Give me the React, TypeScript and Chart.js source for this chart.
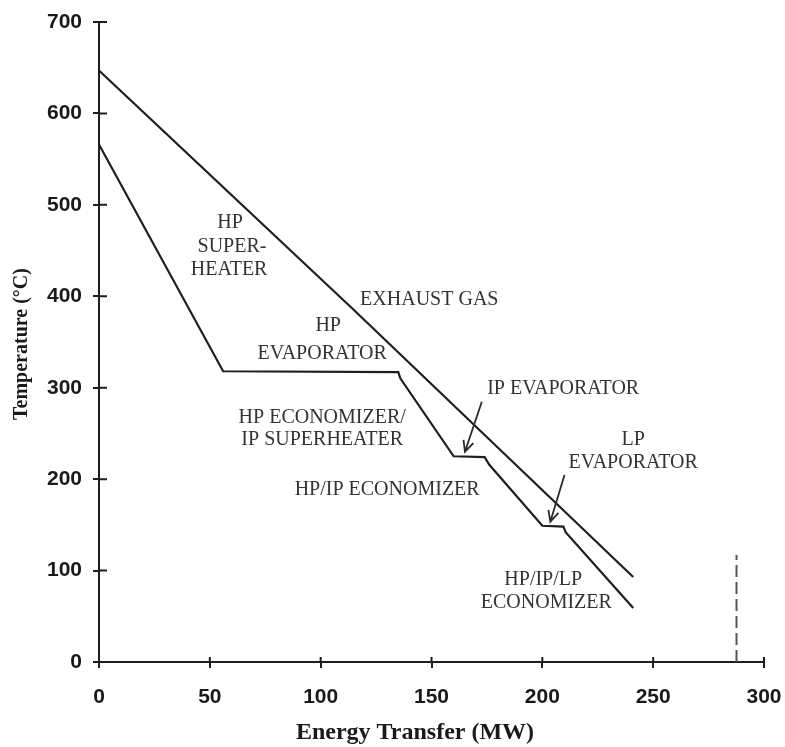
import React, { useEffect, useRef } from 'react';
import { Chart, registerables } from 'chart.js';

Chart.register(...registerables);

// ---- Data ----
const energyTickValues = [0, 50, 100, 150, 200, 250, 300];
const temperatureTickValues = [0, 100, 200, 300, 400, 500, 600, 700];

// Exhaust gas temperature profile
const exhaustEnergy = [0, 115, 241];
const exhaustTemp = [647, 385, 93];

// Water / steam temperature profile
const steamEnergy = [0, 56, 135, 136, 160, 174, 176, 200, 209.5, 210.5, 241];
const steamTemp = [566, 318, 317, 310, 225, 224, 216, 149, 148, 142, 59];

// Dashed vertical marker
const markerEnergy = [287.6, 287.6];
const markerTemp = [0, 117];

// Section labels (text, energy, temperature)
const labelTexts = [
  'HP', 'SUPER-', 'HEATER',
  'EXHAUST GAS',
  'HP', 'EVAPORATOR',
  'IP EVAPORATOR',
  'HP ECONOMIZER/', 'IP SUPERHEATER',
  'LP', 'EVAPORATOR',
  'HP/IP ECONOMIZER',
  'HP/IP/LP', 'ECONOMIZER',
];
const labelEnergy = [59.1, 60.0, 58.7, 149.0, 103.4, 100.7, 209.4, 100.7, 100.7, 241.0, 241.0, 130.0, 200.4, 201.8];
const labelTemp = [480.2, 453.9, 428.7, 395.9, 367.5, 336.9, 298.6, 266.9, 242.8, 242.8, 217.7, 188.1, 89.7, 64.5];

// Arrows (start -> tip)
const arrowStartEnergy = [172.7, 210.0];
const arrowStartTemp = [284.7, 204.5];
const arrowTipEnergy = [165.1, 203.6];
const arrowTipTemp = [230.0, 153.5];

const xTitle = 'Energy Transfer (MW)';
const yTitle = 'Temperature (°C)';

const INK = '#1e1e1e';
const TEXT = '#333333';

const toPoints = (xs: number[], ys: number[]) => xs.map((x, i) => ({ x, y: ys[i] }));

const overlayPlugin = {
  id: 'overlay',
  afterDatasetsDraw(chart: any) {
    const { ctx, chartArea, scales } = chart;
    const xs = scales.x;
    const ys = scales.y;
    ctx.save();

    // inner halves of the cross ticks
    ctx.strokeStyle = INK;
    ctx.lineWidth = 2;
    ctx.beginPath();
    energyTickValues.forEach((v) => {
      const px = xs.getPixelForValue(v);
      ctx.moveTo(px, chartArea.bottom);
      ctx.lineTo(px, chartArea.bottom - 5);
    });
    temperatureTickValues.forEach((v) => {
      const py = ys.getPixelForValue(v);
      ctx.moveTo(chartArea.left, py);
      ctx.lineTo(chartArea.left + 8, py);
    });
    ctx.stroke();

    // section labels
    ctx.fillStyle = TEXT;
    ctx.font = '20px "Liberation Serif", "Times New Roman", serif';
    ctx.textAlign = 'center';
    ctx.textBaseline = 'middle';
    labelTexts.forEach((t, i) => {
      ctx.fillText(t, xs.getPixelForValue(labelEnergy[i]), ys.getPixelForValue(labelTemp[i]));
    });

    // arrows
    ctx.strokeStyle = '#2a2a2a';
    ctx.lineWidth = 1.8;
    arrowStartEnergy.forEach((_, i) => {
      const x0 = xs.getPixelForValue(arrowStartEnergy[i]);
      const y0 = ys.getPixelForValue(arrowStartTemp[i]);
      const x1 = xs.getPixelForValue(arrowTipEnergy[i]);
      const y1 = ys.getPixelForValue(arrowTipTemp[i]);
      const ang = Math.atan2(y1 - y0, x1 - x0);
      const L = 12;
      const spread = 0.45;
      ctx.beginPath();
      ctx.moveTo(x0, y0);
      ctx.lineTo(x1, y1);
      ctx.moveTo(x1 - L * Math.cos(ang - spread), y1 - L * Math.sin(ang - spread));
      ctx.lineTo(x1, y1);
      ctx.lineTo(x1 - L * Math.cos(ang + spread), y1 - L * Math.sin(ang + spread));
      ctx.stroke();
    });

    // axis titles
    ctx.fillStyle = '#1a1a1a';
    ctx.font = 'bold 24px "Liberation Serif", "Times New Roman", serif';
    ctx.textAlign = 'center';
    ctx.textBaseline = 'middle';
    ctx.fillText(xTitle, 415, 733);

    ctx.save();
    ctx.translate(22, 344);
    ctx.rotate(-Math.PI / 2);
    ctx.font = 'bold 20px "Liberation Serif", "Times New Roman", serif';
    ctx.fillText(yTitle, 0, 0);
    ctx.restore();

    ctx.restore();
  },
};

export default function App() {
  const canvasRef = useRef<HTMLCanvasElement | null>(null);

  useEffect(() => {
    if (!canvasRef.current) return;
    const chart = new Chart(canvasRef.current, {
      type: 'scatter',
      data: {
        datasets: [
          {
            label: 'Exhaust gas',
            data: toPoints(exhaustEnergy, exhaustTemp),
            showLine: true,
            borderColor: INK,
            borderWidth: 2.2,
            pointRadius: 0,
            tension: 0,
          },
          {
            label: 'Water/steam',
            data: toPoints(steamEnergy, steamTemp),
            showLine: true,
            borderColor: INK,
            borderWidth: 2.2,
            pointRadius: 0,
            tension: 0,
          },
          {
            label: 'Marker',
            data: toPoints(markerEnergy, markerTemp),
            showLine: true,
            borderColor: '#555555',
            borderWidth: 2,
            borderDash: [12, 5],
            pointRadius: 0,
          },
        ],
      },
      options: {
        animation: false,
        responsive: true,
        maintainAspectRatio: false,
        layout: { padding: { top: 22, right: 21, left: 0, bottom: 0 } },
        plugins: {
          legend: { display: false },
          tooltip: { enabled: false },
        },
        scales: {
          x: {
            type: 'linear',
            min: 0,
            max: 300,
            afterFit: (scale: any) => {
              scale.height = 85;
              scale.paddingLeft = 0;
              scale.paddingRight = 0;
            },
            afterBuildTicks: (scale: any) => {
              scale.ticks = energyTickValues.map((v) => ({ value: v }));
            },
            border: { display: true, color: INK, width: 2 },
            grid: {
              display: true,
              drawOnChartArea: false,
              drawTicks: true,
              tickLength: 6,
              color: INK,
              lineWidth: 2,
            },
            ticks: {
              color: '#1a1a1a',
              padding: 17,
              maxRotation: 0,
              font: { family: '"Liberation Sans", Arial, sans-serif', weight: 'bold', size: 21 },
            },
          },
          y: {
            type: 'linear',
            min: 0,
            max: 700,
            afterFit: (scale: any) => {
              scale.width = 99;
              scale.paddingTop = 0;
              scale.paddingBottom = 0;
            },
            afterBuildTicks: (scale: any) => {
              scale.ticks = temperatureTickValues.map((v) => ({ value: v }));
            },
            border: { display: true, color: INK, width: 2 },
            grid: {
              display: true,
              drawOnChartArea: false,
              drawTicks: true,
              tickLength: 6,
              color: INK,
              lineWidth: 2,
            },
            ticks: {
              color: '#1a1a1a',
              padding: 11,
              font: { family: '"Liberation Sans", Arial, sans-serif', weight: 'bold', size: 21 },
            },
          },
        },
      },
      plugins: [overlayPlugin],
    } as any);
    return () => chart.destroy();
  }, []);

  return (
    <div style={{ position: 'absolute', left: 0, top: 0, width: 785, height: 747, background: '#ffffff' }}>
      <canvas ref={canvasRef} />
    </div>
  );
}
